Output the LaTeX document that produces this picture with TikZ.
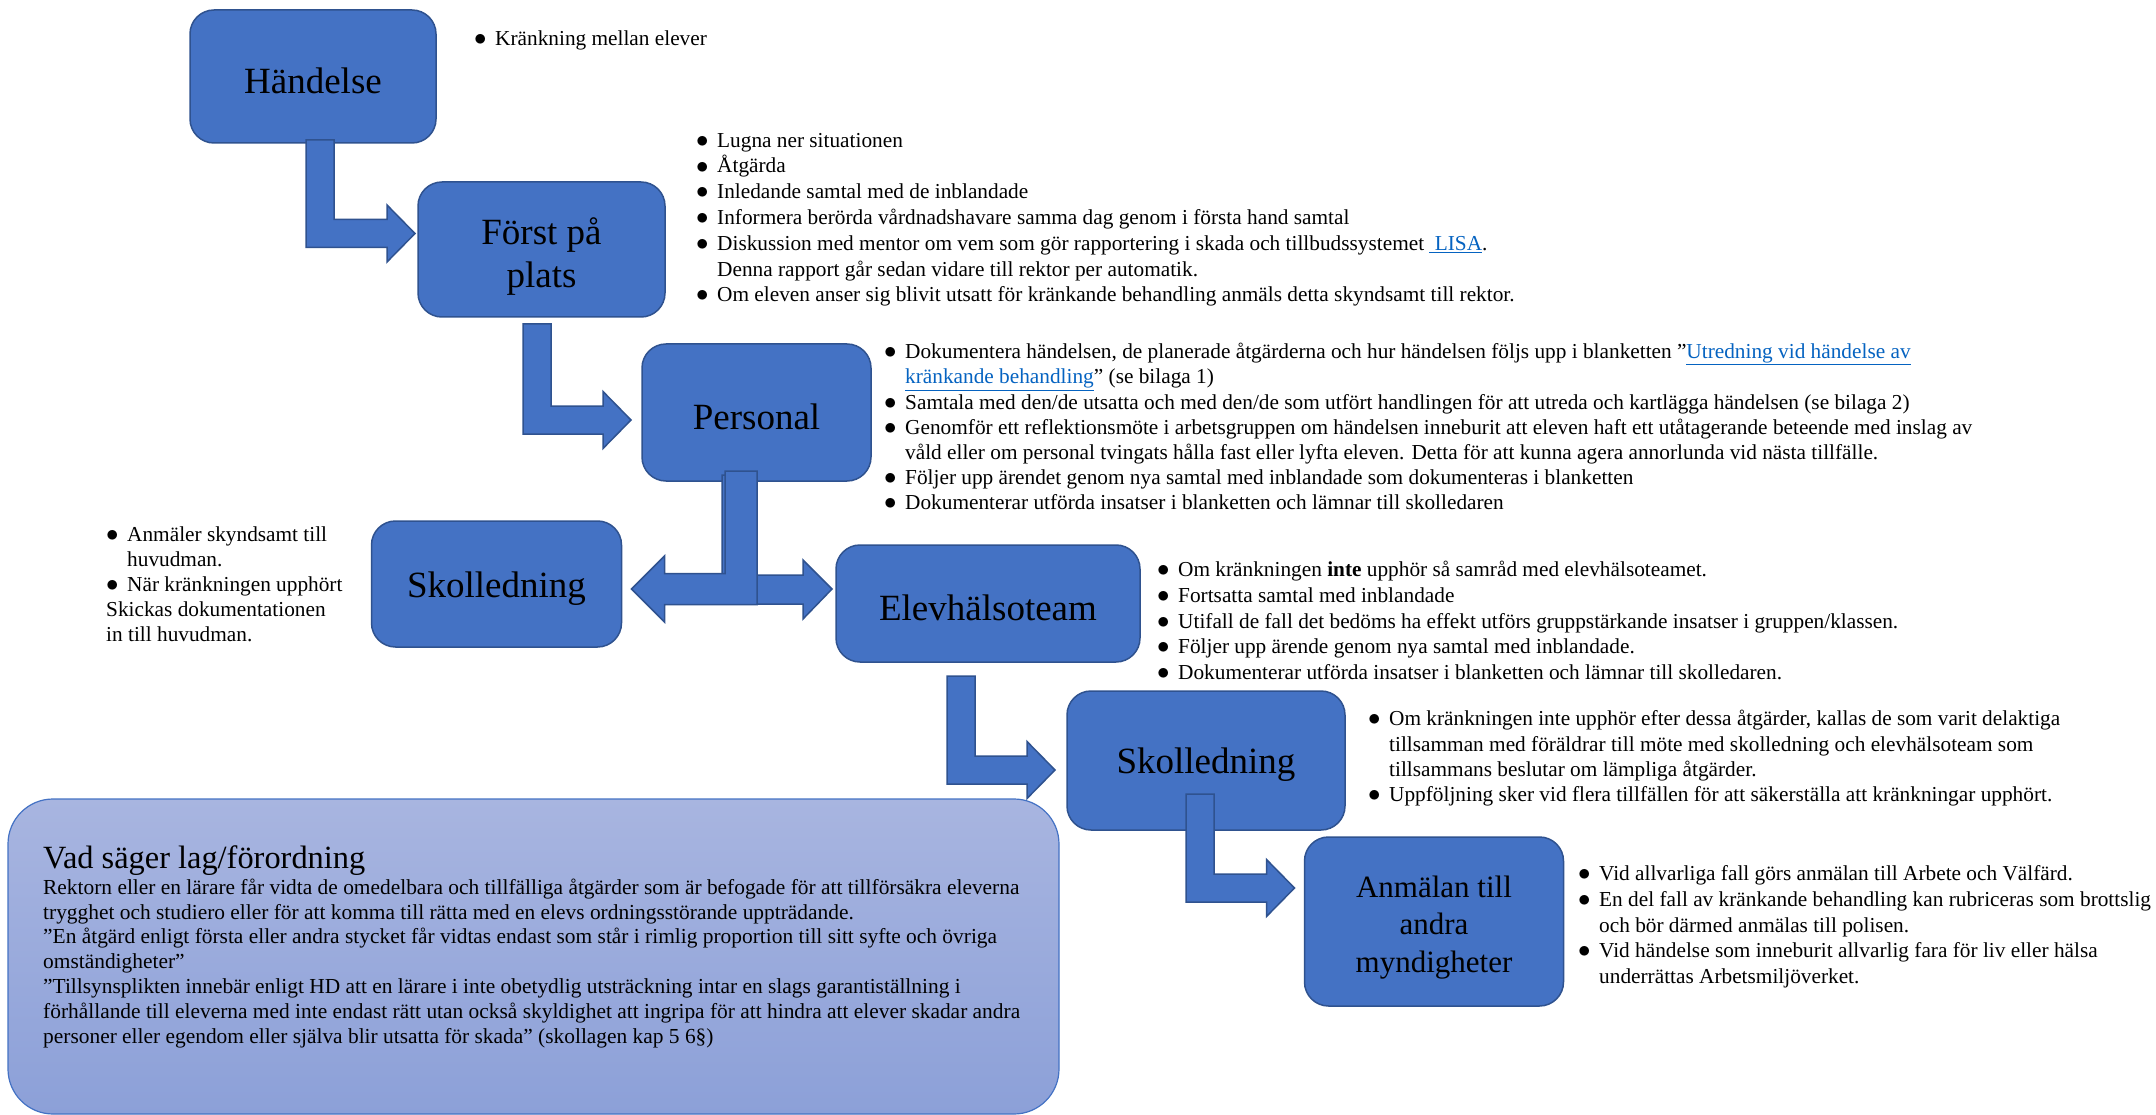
\documentclass[tikz,border=0pt]{standalone}
\usepackage{fontspec}
\setmainfont{Liberation Serif}
\usetikzlibrary{calc}

\definecolor{boxblue}{HTML}{4472C4}
\definecolor{boxedge}{HTML}{2F528F}
\definecolor{lawtop}{HTML}{A8B5E0}
\definecolor{lawbottom}{HTML}{8CA0D8}
\definecolor{linkblue}{HTML}{0563C1}

\newcommand\blt{\makebox[21pt][l]{\scalebox{1.2}{$\bullet$}}}
\newcommand\ind{\hspace*{21pt}}
\newcommand\topstrut{\rule{0pt}{21pt}}
\newcommand\lnk[1]{\textcolor{linkblue}{\underline{#1}}}

% L-shaped block arrow: shaft top-left, tip
\newcommand\downright[2]{%
  \draw[blockarrow] (#1) -- ++(28,0) |- ($(#2)+(-28,-14)$) -- ++(0,-14.5)
    -- (#2) -- ++(-28,28.5) -- ++(0,-14.5) -| (#1) -- cycle;}

\tikzset{
  stagebox/.style={draw=boxedge, fill=boxblue, line width=1.5pt,
    rounded corners=24pt, inner sep=0pt, outer sep=0pt, align=center,
    font=\fontsize{37}{43}\selectfont, execute at begin node={\rule{0pt}{#1}}},
  stagebox/.default=34pt,
  notelist/.style={anchor=north west, align=left, inner sep=0pt,
    font=\fontsize{21.3}{25.5}\selectfont},
  blockarrow/.style={draw=boxedge, fill=boxblue, line width=1.5pt, line join=miter},
  lawbox/.style={draw=boxblue, line width=1.2pt, rounded corners=45pt,
    top color=lawtop, bottom color=lawbottom, inner sep=0pt, outer sep=0pt}
}

\begin{document}
\begin{tikzpicture}[x=1pt, y=-1pt]
\path[use as bounding box, fill=white] (0,0) rectangle (2156,1115);

% stages
\node[stagebox, minimum width=246pt, minimum height=133pt] (handelse) at (313,76.5) {Händelse};
\node[stagebox=0pt, minimum width=247pt, minimum height=135pt] (forst) at (541.5,249.5) {\rule{0pt}{40pt}Först på\\plats};
\node[stagebox, minimum width=229pt, minimum height=137pt] (personal) at (756.5,412.5) {Personal};
\node[stagebox, minimum width=250pt, minimum height=126pt] (skolL) at (496.5,584) {Skolledning};
\node[stagebox, minimum width=304pt, minimum height=117pt] (elev) at (988,603.5) {Elevhälsoteam};
\node[stagebox, minimum width=278pt, minimum height=139pt] (skolR) at (1206,760.5) {Skolledning};
\node[stagebox=0pt, minimum width=259pt, minimum height=169pt, font=\fontsize{31}{37.5}\selectfont]
  (anmalan) at (1434,921.5) {\rule{0pt}{33pt}Anmälan till\\andra\\myndigheter};
\node[lawbox, minimum width=1051pt, minimum height=315pt] (lag) at (533.5,956.5) {};

% arrows
\coordinate (a1top) at ($(handelse.south west)+(116,-3)$);
\coordinate (a1tip) at ($(forst.west)+(-3,-16)$);
\downright{a1top}{a1tip}
\coordinate (a2top) at ($(forst.south west)+(105,7)$);
\coordinate (a2tip) at ($(personal.west)+(-11,7.5)$);
\downright{a2top}{a2tip}
\coordinate (a3top) at ($(elev.south west)+(111,14)$);
\coordinate (a3tip) at ($(skolR.west)+(-12,9.5)$);
\downright{a3top}{a3tip}
\coordinate (a4top) at ($(skolR.south west)+(119,-36)$);
\coordinate (a4tip) at ($(anmalan.west)+(-10,-33.5)$);
\downright{a4top}{a4tip}

\coordinate (teeR) at ($(elev.west)+(-4,-14.5)$);
\coordinate (teeL) at ($(skolL.east)+(10,5)$);
\draw[blockarrow] ($(personal.south)+(-34.5,-6)$) -- ++(32,0) |- ($(teeR)+(-29,-14)$)
  -- ++(0,-15) -- (teeR) -- ++(-29,30) -- ++(0,-15) -| ($(personal.south)+(-34.5,-6)$) -- cycle;
\draw[blockarrow] ($(personal.south)+(0.5,-10)$) -- ++(-32,0) |- ($(teeL)+(33,-15.5)$)
  -- ++(0,-17.5) -- (teeL) -- ++(33,33) -- ++(0,-17.5) -| ($(personal.south)+(0.5,-10)$) -- cycle;

% notes
\node[notelist] (handelseText) at (474,24) {\topstrut\blt Kränkning mellan elever};
\node[notelist, font=\fontsize{21.3}{25.8}\selectfont] (forstText) at (696,126) {\topstrut\blt Lugna ner situationen\\
  \blt Åtgärda\\
  \blt Inledande samtal med de inblandade\\
  \blt Informera berörda vårdnadshavare samma dag genom i första hand samtal\\
  \blt Diskussion med mentor om vem som gör rapportering i skada och tillbudssystemet \lnk{\ LISA}.\\
  \ind Denna rapport går sedan vidare till rektor per automatik.\\
  \blt Om eleven anser sig blivit utsatt för kränkande behandling anmäls detta skyndsamt till rektor.};
\node[notelist, font=\fontsize{21.3}{25.2}\selectfont] (personalText) at (884,337.5) {\topstrut\blt Dokumentera händelsen, de planerade åtgärderna och hur händelsen följs upp i blanketten ”\lnk{Utredning vid händelse av}\\
  \ind\lnk{kränkande behandling}” (se bilaga 1)\\
  \blt Samtala med den/de utsatta och med den/de som utfört handlingen för att utreda och kartlägga händelsen (se bilaga 2)\\
  \blt Genomför ett reflektionsmöte i arbetsgruppen om händelsen inneburit att eleven haft ett utåtagerande beteende med inslag av\\
  \ind våld eller om personal tvingats hålla fast eller lyfta eleven. Detta för att kunna agera annorlunda vid nästa tillfälle.\\
  \blt Följer upp ärendet genom nya samtal med inblandade som dokumenteras i blanketten\\
  \blt Dokumenterar utförda insatser i blanketten och lämnar till skolledaren};
\node[notelist, font=\fontsize{21.3}{25}\selectfont] (skolLText) at (106,520) {\topstrut\blt Anmäler skyndsamt till\\
  \ind huvudman.\\
  \blt När kränkningen upphört\\
  Skickas dokumentationen\\
  in till huvudman.};
\node[notelist, font=\fontsize{21.3}{25.75}\selectfont] (elevText) at (1157,555.5) {\topstrut\blt Om kränkningen \textbf{inte} upphör så samråd med elevhälsoteamet.\\
  \blt Fortsatta samtal med inblandade\\
  \blt Utifall de fall det bedöms ha effekt utförs gruppstärkande insatser i gruppen/klassen.\\
  \blt Följer upp ärende genom nya samtal med inblandade.\\
  \blt Dokumenterar utförda insatser i blanketten och lämnar till skolledaren.};
\node[notelist, font=\fontsize{21.3}{25.3}\selectfont] (skolRText) at (1368,704.5) {\topstrut\blt Om kränkningen inte upphör efter dessa åtgärder, kallas de som varit delaktiga\\
  \ind tillsamman med föräldrar till möte med skolledning och elevhälsoteam som\\
  \ind tillsammans beslutar om lämpliga åtgärder.\\
  \blt Uppföljning sker vid flera tillfällen för att säkerställa att kränkningar upphört.};
\node[notelist, font=\fontsize{21.3}{25.75}\selectfont] (anmalanText) at (1578,859.5) {\topstrut\blt Vid allvarliga fall görs anmälan till Arbete och Välfärd.\\
  \blt En del fall av kränkande behandling kan rubriceras som brottslig\\
  \ind och bör därmed anmälas till polisen.\\
  \blt Vid händelse som inneburit allvarlig fara för liv eller hälsa\\
  \ind underrättas Arbetsmiljöverket.};

% law box text
\node[notelist, font=\fontsize{32.4}{38}\selectfont] (lagTitle) at (43,835) {\rule{0pt}{33pt}Vad säger lag/förordning};
\node[notelist, font=\fontsize{21.4}{24.8}\selectfont] (lagText) at (43,873) {\topstrut Rektorn eller en lärare får vidta de omedelbara och tillfälliga åtgärder som är befogade för att tillförsäkra eleverna\\
  trygghet och studiero eller för att komma till rätta med en elevs ordningsstörande uppträdande.\\
  ”En åtgärd enligt första eller andra stycket får vidtas endast som står i rimlig proportion till sitt syfte och övriga\\
  omständigheter”\\
  ”Tillsynsplikten innebär enligt HD att en lärare i inte obetydlig utsträckning intar en slags garantiställning i\\
  förhållande till eleverna med inte endast rätt utan också skyldighet att ingripa för att hindra att elever skadar andra\\
  personer eller egendom eller själva blir utsatta för skada” (skollagen kap 5 6§)};
\end{tikzpicture}
\end{document}
